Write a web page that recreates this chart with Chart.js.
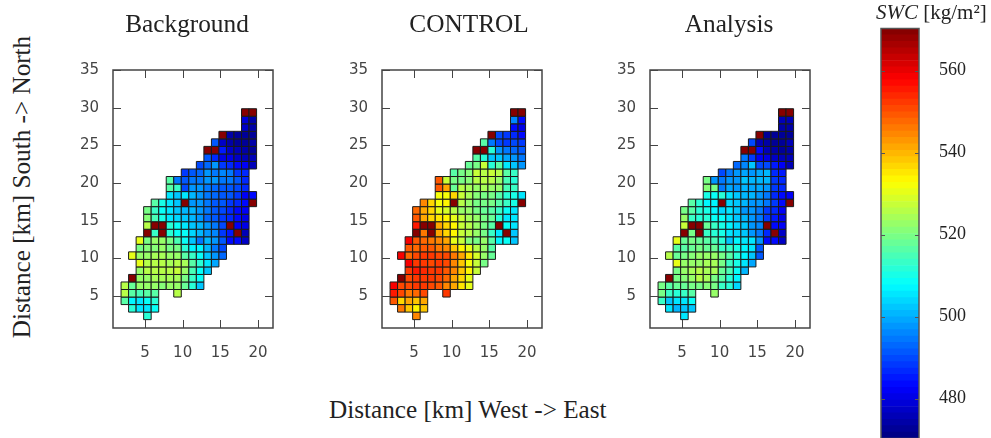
<!DOCTYPE html>
<html>
<head>
<meta charset="utf-8">
<title>SWC</title>
<script src="https://cdn.jsdelivr.net/npm/chart.js@4"></script>
<style>
  html, body { margin: 0; padding: 0; background: #fff; overflow: hidden; width: 991px; height: 438px; }
  canvas { position: absolute; top: 0; }
  .label { position: absolute; font-family: "Liberation Serif", serif; color: #222; white-space: nowrap; }
  .title { top: 9px; font-size: 25.3px; transform: translateX(-50%); }
</style>
</head>
<body>
<canvas id="bg" width="250" height="368" style="left:50px"></canvas>
<canvas id="ctrl" width="250" height="368" style="left:319px"></canvas>
<canvas id="ana" width="250" height="368" style="left:587px"></canvas>
<canvas id="bar" width="131" height="460" style="left:860px"></canvas>
<div class="label title" style="left:187px">Background</div>
<div class="label title" style="left:469px">CONTROL</div>
<div class="label title" style="left:729px">Analysis</div>
<div class="label" style="left:329px;top:396px;font-size:25.2px">Distance [km] West -&gt; East</div>
<div class="label" style="left:22px;top:187px;font-size:25.2px;transform:translate(-50%,-50%) rotate(-90deg)">Distance [km] South -&gt; North</div>
<div class="label" style="left:876px;top:0px;font-size:21px"><i>SWC</i> [kg/m²]</div>
<script>
const xTicks = [5, 10, 15, 20];
const yTicks = [5, 10, 15, 20, 25, 30, 35];
const barTicks = [480, 500, 520, 540, 560];

// one entry per grid row, south to north. D = the dark red cells
const D = 570;
const rowY = [2,3,4,5,6,7,8,9,10,11,12,13,14,15,16,17,18,19,20,21,22,23,24,25,26,27,28,29];
const rowStart = [5,3,2,2,2,3,4,4,3,4,4,5,5,5,5,6,8,8,8,10,12,13,13,14,15,18,18,18];

const background = [
  [512],
  [512,506,506,508],
  [516,507,505,509,512],
  [525,517,515,516,516,null,null,526],
  [525,518,522,522,522,521,523,522,518,512,503],
  [D,522,523,524,524,524,524,520,514,508],
  [522,525,526,526,526,527,522,515,509,503],
  [531,525,526,525,524,525,524,516,511,505,499],
  [530,522,523,524,524,523,522,517,514,508,503,497,493],
  [519,521,521,522,519,519,512,507,507,501,495,490],
  [530,520,523,522,519,515,509,503,495,500,497,492,484,483,478],
  [D,513,D,512,509,508,504,500,497,496,488,485,D,476],
  [525,D,D,512,508,506,502,500,497,495,490,D,482,481],
  [521,515,510,506,504,503,501,497,493,492,489,486,483,481],
  [519,513,508,505,502,501,500,497,495,492,490,487,483,482],
  [516,510,505,502,D,498,497,494,492,491,488,486,484,D],
  [505,503,505,500,497,494,493,491,491,489,482,483],
  [517,514,490,497,497,494,493,491,492,490,486],
  [517,494,492,494,494,497,497,494,494,491,487],
  [488,491,493,497,494,496,494,489,487],
  [490,493,498,488,487,484,482,476],
  [491,486,481,480,478,476,475],
  [D,D,485,477,475,474,473],
  [491,477,474,473,473,474],
  [D,474,473,472,473],
  [477,474],
  [479,474],
  [D,D]
];

const control = [
  [545],
  [546,538,534,538],
  [549,536,541,539,542],
  [556,550,546,548,550,null,null,552],
  [558,550,551,552,552,550,549,545,542,535,530],
  [D,551,553,553,552,551,547,541,536,530],
  [553,555,554,553,552,549,545,539,533,527],
  [558,553,553,551,552,550,544,538,532,527,520],
  [558,548,551,552,552,551,550,546,541,535,529,523,518],
  [549,547,549,549,546,544,539,533,531,525,522,516],
  [558,549,548,546,544,541,530,527,521,520,522,517,507,508,502],
  [D,546,D,542,537,533,528,525,523,520,514,506,D,502],
  [555,D,D,542,537,533,528,525,522,520,517,D,508,505],
  [549,541,537,535,533,530,527,524,522,520,518,512,506,505],
  [547,541,536,531,529,526,523,522,519,518,516,513,509,506],
  [544,537,532,533,D,525,522,520,519,519,517,513,510,D],
  [532,532,536,527,524,521,520,519,516,511,510,505],
  [549,541,518,525,524,523,524,523,522,515,513],
  [549,527,520,520,521,525,526,525,522,515,512],
  [517,520,521,527,526,527,526,516,514],
  [518,520,527,512,516,506,502,497],
  [516,512,502,502,499,497,495],
  [D,D,512,497,495,493,492],
  [517,495,490,489,490,488],
  [D,490,488,487,483],
  [483,480],
  [496,484],
  [D,D]
];

const analysis = [
  [506],
  [506,500,502,503],
  [513,502,505,506,509],
  [519,513,512,513,516,null,null,523],
  [520,516,518,518,520,519,521,520,513,511,504],
  [D,519,521,522,526,524,520,517,511,507],
  [520,522,524,525,524,524,518,515,508,500],
  [530,522,522,522,524,524,520,514,510,505,499],
  [526,518,520,521,523,523,522,519,517,512,507,503,492],
  [516,517,518,519,518,518,514,513,510,507,505,492],
  [530,518,520,518,516,515,511,503,507,506,505,498,484,484,478],
  [D,520,D,514,512,510,505,504,503,498,495,487,D,477],
  [527,D,D,518,514,510,507,504,503,497,496,D,484,482],
  [522,513,512,511,508,509,505,503,500,498,494,489,485,480],
  [520,516,512,510,507,504,505,503,498,497,494,489,486,482],
  [516,511,507,507,D,504,503,500,498,497,494,489,484,D],
  [510,508,511,506,503,500,500,497,495,487,484,482],
  [521,519,494,499,498,501,499,499,497,488,486],
  [520,497,495,497,498,502,501,500,500,488,486],
  [490,495,497,499,497,499,500,487,485],
  [493,496,503,490,490,485,482,476],
  [495,488,482,481,478,475,475],
  [D,D,483,476,474,473,474],
  [490,476,474,473,472,475],
  [D,473,472,472,473],
  [474,474],
  [476,475],
  [D,D]
];

const swcMin = 470.3, swcMax = 570.3;
const levels = 64;

function jet(v) {
  let t = (v - swcMin) / (swcMax - swcMin);
  t = (Math.min(levels - 1, Math.max(0, Math.floor(t * levels))) + 0.5) / levels;
  const c = k => Math.round(255 * Math.min(1, Math.max(0, 1.5 - Math.abs(4 * t - k))));
  return `rgb(${c(3)},${c(2)},${c(1)})`;
}

// gnuplot style frame: ticks point inwards and repeat on the far sides
const framePlugin = {
  id: 'frame',
  afterDatasetsDraw(chart, args, opts) {
    const { ctx, chartArea: a, scales } = chart;
    ctx.save();
    ctx.strokeStyle = opts.color;
    ctx.lineWidth = 1;
    ctx.beginPath();
    if (scales.x.options.display) {
      xTicks.forEach(v => {
        const px = Math.round(scales.x.getPixelForValue(v)) + 0.5;
        ctx.moveTo(px, a.bottom); ctx.lineTo(px, a.bottom - opts.len);
        ctx.moveTo(px, a.top); ctx.lineTo(px, a.top + opts.len);
      });
    }
    scales.y.ticks.forEach(t => {
      const py = Math.round(scales.y.getPixelForValue(t.value)) + 0.5;
      ctx.moveTo(a.left, py); ctx.lineTo(a.left + opts.len, py);
      ctx.moveTo(a.right, py); ctx.lineTo(a.right - opts.len, py);
    });
    ctx.stroke();
    ctx.lineWidth = 1.5;
    ctx.strokeRect(a.left, a.top, a.right - a.left, a.bottom - a.top);
    ctx.restore();
  }
};

function cells(rows) {
  const pts = [];
  rows.forEach((vals, k) => {
    vals.forEach((v, i) => {
      if (v !== null) pts.push({ x: rowStart[k] + i + 0.32, y: rowY[k] + 0.36, v });
    });
  });
  return pts;
}

const tickFont = { family: '"DejaVu Sans", sans-serif', size: 15 };

function makePanel(id, rows) {
  new Chart(document.getElementById(id), {
    type: 'scatter',
    data: {
      datasets: [{
        data: cells(rows),
        pointStyle: 'rect',
        pointRadius: ctx => {
          const x = ctx.chart.scales.x;
          return (x.getPixelForValue(1) - x.getPixelForValue(0)) / Math.SQRT2;
        },
        pointBackgroundColor: ctx => jet(ctx.raw.v),
        pointBorderColor: '#1a1a1a',
        pointBorderWidth: 1
      }]
    },
    options: {
      responsive: false,
      animation: false,
      layout: { padding: { top: 70, right: 27 } },
      plugins: {
        legend: { display: false },
        tooltip: { enabled: false },
        frame: { color: '#444', len: 8 }
      },
      scales: {
        x: {
          type: 'linear', min: 0.75, max: 22,
          grid: { display: false, drawTicks: false },
          border: { display: false },
          afterBuildTicks: s => { s.ticks = xTicks.map(v => ({ value: v })); },
          afterFit: s => { s.height = 40; },
          ticks: { color: '#444', font: tickFont, padding: 16, maxRotation: 0, callback: v => String(v) }
        },
        y: {
          type: 'linear', min: 0.75, max: 35,
          grid: { display: false, drawTicks: false },
          border: { display: false },
          afterBuildTicks: s => { s.ticks = yTicks.map(v => ({ value: v })); },
          afterFit: s => { s.width = 63; s.paddingTop = 0; s.paddingBottom = 0; },
          ticks: { color: '#444', font: tickFont, padding: 14, callback: v => String(v) }
        }
      }
    },
    plugins: [framePlugin]
  });
}

makePanel('bg', background);
makePanel('ctrl', control);
makePanel('ana', analysis);

// colour bar, one floating bar for each colour level
const step = (swcMax - swcMin) / levels;
const barSets = [];
for (let i = 0; i < levels; i++) {
  const lo = swcMin + i * step;
  barSets.push({
    data: [[lo, lo + step]],
    backgroundColor: jet(lo + step / 2),
    borderWidth: 0,
    barPercentage: 1,
    categoryPercentage: 1
  });
}

new Chart(document.getElementById('bar'), {
  type: 'bar',
  data: { labels: ['SWC'], datasets: barSets },
  options: {
    responsive: false,
    animation: false,
    layout: { padding: { left: 21, top: 28.5, bottom: 21.5 } },
    datasets: { bar: { grouped: false } },
    plugins: {
      legend: { display: false },
      tooltip: { enabled: false },
      frame: { color: '#555', len: 4 }
    },
    scales: {
      x: { display: false },
      y: {
        position: 'right',
        min: swcMin, max: swcMax,
        grid: { display: false, drawTicks: false },
        border: { display: false },
        afterBuildTicks: s => { s.ticks = barTicks.map(v => ({ value: v })); },
        afterFit: s => { s.width = 72; s.paddingTop = 0; s.paddingBottom = 0; },
        ticks: {
          color: '#222',
          font: { family: '"Liberation Serif", serif', size: 18 },
          padding: 20,
          callback: v => String(v)
        }
      }
    }
  },
  plugins: [framePlugin]
});
</script>
</body>
</html>
